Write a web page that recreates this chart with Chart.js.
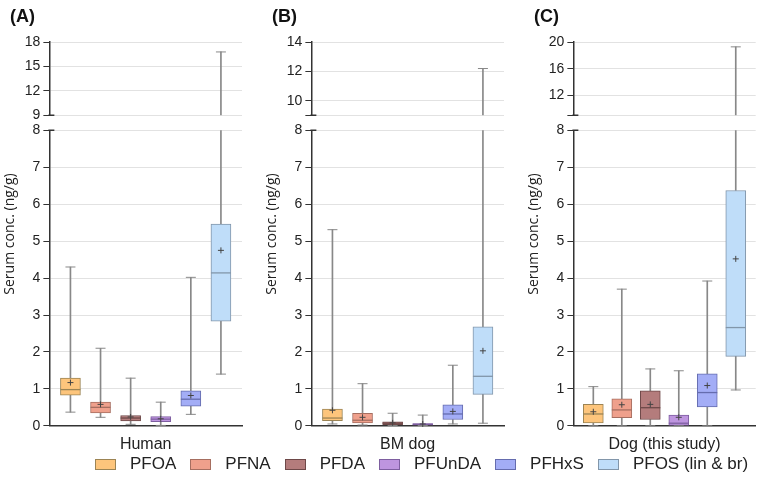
<!DOCTYPE html>
<html>
<head>
<meta charset="utf-8">
<script src="https://cdn.jsdelivr.net/npm/chart.js@4.4.1/dist/chart.umd.min.js"></script>
<style>
  body { margin: 0; background: #fff; width: 767px; height: 494px; overflow: hidden; position: relative; }
  .panel { position: absolute; top: 0; height: 458px; }
  #legend { position: absolute; top: 454px; left: 95px; display: flex; align-items: center;
            font-family: "Liberation Sans", Arial, sans-serif; font-size: 17px; color: #222; white-space: nowrap; }
  #legend .item { display: flex; align-items: center; margin-right: 14px; }
  #legend .sw { width: 21px; height: 11px; margin-right: 14px; box-sizing: border-box; border: 1px solid #888; }
</style>
</head>
<body>
<div style="left:0;width:255px" class="panel"><canvas id="chartA"></canvas></div>
<div style="left:262px;width:255px" class="panel"><canvas id="chartB"></canvas></div>
<div style="left:524px;width:243px" class="panel"><canvas id="chartC"></canvas></div>
<div id="legend"></div>

<script>
const compounds = ["PFOA", "PFNA", "PFDA", "PFUnDA", "PFHxS", "PFOS (lin & br)"];
const fillColors = ["#FDC57C", "#EFA08C", "#B47C7C", "#BE95DF", "#A3ADF6", "#BFDDF9"];
const lineColors = ["#9C8454", "#A66E60", "#6E4848", "#7E5EA0", "#656CAE", "#8296AA"];
const whiskerColor = "#888";

// (A) Human
const humanMin = [0.37, 0.23, 0.04, 0.01, 0.31, 1.40];
const humanQ1 = [0.83, 0.35, 0.13, 0.11, 0.53, 2.83];
const humanMedian = [0.98, 0.50, 0.21, 0.18, 0.72, 4.14];
const humanQ3 = [1.29, 0.64, 0.28, 0.25, 0.95, 5.46];
const humanMax = [4.30, 2.10, 1.29, 0.64, 4.02, 16.8];
const humanMean = [1.17, 0.58, 0.24, 0.19, 0.82, 4.75];

// (B) BM dog
const bmMin = [0.05, 0.02, 0.01, 0.01, 0.05, 0.07];
const bmQ1 = [0.14, 0.08, 0.03, 0.02, 0.17, 0.85];
const bmMedian = [0.21, 0.15, 0.07, 0.04, 0.32, 1.34];
const bmQ3 = [0.45, 0.34, 0.11, 0.06, 0.57, 2.68];
const bmMax = [5.31, 1.14, 0.34, 0.29, 1.64, 12.2];
const bmMean = [0.42, 0.23, 0.08, 0.05, 0.39, 2.03];

// (C) Dog (this study)
const dogMin = [0.0, 0.0, 0.0, 0.0, 0.0, 0.97];
const dogQ1 = [0.08, 0.22, 0.17, 0.0, 0.51, 1.88];
const dogMedian = [0.32, 0.43, 0.49, 0.07, 0.90, 2.66];
const dogQ3 = [0.58, 0.73, 0.95, 0.29, 1.41, 6.37];
const dogMax = [1.06, 3.70, 1.54, 1.49, 3.92, 19.3];
const dogMean = [0.38, 0.57, 0.58, 0.23, 1.09, 4.52];

// axis break: lower part 0-8, upper part from 9
const lowerTop = 8;
const upperBottom = 9;
const lowerTicks = [0, 1, 2, 3, 4, 5, 6, 7, 8];
const humanTopTicks = [9, 12, 15, 18];
const bmTopTicks = [9, 10, 12, 14];
const dogTopTicks = [9, 12, 16, 20];

const tickFont = { family: "Liberation Sans", size: 14 };

// little caps where the y axis is broken
const breakCaps = {
  id: "breakCaps",
  afterDraw(chart) {
    const ctx = chart.ctx;
    const left = chart.chartArea.left;
    ctx.save();
    ctx.strokeStyle = "#333";
    ctx.lineWidth = 1.5;
    ctx.beginPath();
    ctx.moveTo(left - 1, chart.scales.yTop.bottom);
    ctx.lineTo(left + 5, chart.scales.yTop.bottom);
    ctx.moveTo(left - 1, chart.scales.y.top);
    ctx.lineTo(left + 5, chart.scales.y.top);
    ctx.stroke();
    ctx.restore();
  },
};

function makePanel(id, letter, label, mins, q1s, medians, q3s, maxs, means, topTicks) {
  const idx = compounds.map((c, i) => i);
  const pts = (arr) => idx.map((i) => ({ x: i, y: arr[i] }));
  const lowCaps = idx.map((i) => ({ x: i, y: mins[i] }))
    .concat(idx.filter((i) => maxs[i] <= lowerTop).map((i) => ({ x: i, y: maxs[i] })));
  const highCaps = idx.filter((i) => maxs[i] > lowerTop).map((i) => ({ x: i, y: maxs[i] }));
  const markers = { type: "line", showLine: false, clip: false, yAxisID: "y" };
  const whisker = { backgroundColor: whiskerColor, barThickness: 1, grouped: false, order: 4, yAxisID: "y" };

  return new Chart(document.getElementById(id), {
    type: "bar",
    data: {
      datasets: [
        {
          data: idx.map((i) => ({ x: i, y: [q1s[i], q3s[i]] })),
          yAxisID: "y",
          backgroundColor: fillColors,
          borderColor: lineColors,
          borderWidth: 1,
          borderSkipped: false,
          barThickness: 20,
          grouped: false,
          order: 3,
        },
        { ...whisker, data: idx.map((i) => ({ x: i, y: [mins[i], q1s[i]] })) },
        { ...whisker, data: idx.map((i) => ({ x: i, y: [q3s[i], Math.min(maxs[i], lowerTop)] })) },
        {
          ...whisker,
          yAxisID: "yTop",
          data: idx.filter((i) => maxs[i] > upperBottom).map((i) => ({ x: i, y: [upperBottom, maxs[i]] })),
        },
        { ...markers, data: lowCaps, pointStyle: "line", pointRadius: 5, pointBorderColor: whiskerColor, pointBorderWidth: 1, order: 2 },
        { ...markers, data: highCaps, yAxisID: "yTop", pointStyle: "line", pointRadius: 5, pointBorderColor: whiskerColor, pointBorderWidth: 1, order: 2 },
        { ...markers, data: pts(medians), pointStyle: "line", pointRadius: 10, pointBorderColor: lineColors, pointBorderWidth: 1.3, order: 1 },
        { ...markers, data: pts(means), pointStyle: "cross", pointRadius: 3, pointBorderColor: "#444", pointBorderWidth: 1, order: 0 },
      ],
    },
    options: {
      responsive: true,
      maintainAspectRatio: false,
      animation: false,
      layout: { padding: { left: 10, right: id === "chartC" ? 2 : 13 } },
      plugins: {
        legend: { display: false },
        tooltip: { enabled: false },
        title: {
          display: true,
          text: letter,
          align: "start",
          color: "#111",
          font: { family: "Liberation Sans", size: 18, weight: "bold" },
          padding: { top: 6, bottom: 14.6 },
        },
      },
      scales: {
        x: {
          type: "linear",
          min: -0.7,
          max: 5.7,
          offset: false,
          grid: { display: false, drawTicks: false },
          ticks: { display: false },
          border: { color: "#333", width: 1.5 },
          title: { display: true, text: label, color: "#222", font: { family: "Liberation Sans", size: 16 }, padding: { top: 9, bottom: 4 } },
        },
        yTitle: {
          position: "left",
          weight: 10,
          grid: { display: false, drawTicks: false },
          ticks: { display: false },
          border: { display: false },
          title: {
            display: true,
            text: "Serum conc. (ng/g)",
            color: "#222",
            font: { family: "Open Sans", size: 14 },
            padding: { top: -8, bottom: 3 },
          },
        },
        yTop: {
          position: "left",
          stack: "v",
          stackWeight: 73,
          weight: 3,
          min: upperBottom,
          max: topTicks[topTicks.length - 1],
          afterBuildTicks: (s) => { s.ticks = topTicks.map((v) => ({ value: v })); },
          ticks: {
            font: tickFont, color: "#222", padding: 3, autoSkip: false,
            callback: (v) => (v === upperBottom && topTicks !== humanTopTicks ? "" : v),
          },
          grid: { color: "#e2e2e2", tickColor: "#333", tickLength: 6 },
          border: { color: "#333", width: 1.5 },
        },
        yGap: { position: "left", stack: "v", stackWeight: 15, weight: 2, display: false },
        y: {
          position: "left",
          stack: "v",
          stackWeight: 295,
          weight: 1,
          min: 0,
          max: lowerTop,
          afterBuildTicks: (s) => { s.ticks = lowerTicks.map((v) => ({ value: v })); },
          ticks: { font: tickFont, color: "#222", padding: 3, autoSkip: false },
          grid: { color: "#e2e2e2", tickColor: "#333", tickLength: 6 },
          border: { color: "#333", width: 1.5 },
        },
      },
    },
    plugins: [breakCaps],
  });
}

makePanel("chartA", "(A)", "Human", humanMin, humanQ1, humanMedian, humanQ3, humanMax, humanMean, humanTopTicks);
makePanel("chartB", "(B)", "BM dog", bmMin, bmQ1, bmMedian, bmQ3, bmMax, bmMean, bmTopTicks);
makePanel("chartC", "(C)", "Dog (this study)", dogMin, dogQ1, dogMedian, dogQ3, dogMax, dogMean, dogTopTicks);

// shared legend under the three panels
const legend = document.getElementById("legend");
compounds.forEach((name, i) => {
  const item = document.createElement("div");
  item.className = "item";
  const sw = document.createElement("span");
  sw.className = "sw";
  sw.style.background = fillColors[i];
  sw.style.borderColor = lineColors[i];
  item.appendChild(sw);
  item.appendChild(document.createTextNode(name));
  legend.appendChild(item);
});
</script>
</body>
</html>
